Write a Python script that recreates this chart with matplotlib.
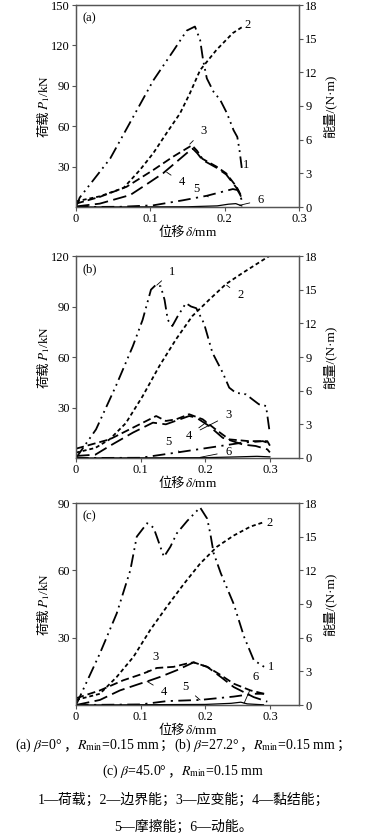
import matplotlib
matplotlib.use("Agg")
import matplotlib.pyplot as plt

plt.rcParams["font.family"] = ["Liberation Serif", "Noto Sans CJK SC"]
plt.rcParams["mathtext.fontset"] = "stix"
plt.rcParams["font.size"] = 9

# ── 数据 (a) β=0° ────────────────────────────────────────────────────────────
a_x_load = [0, 0.005, 0.046, 0.064, 0.077, 0.104, 0.131, 0.149, 0.160, 0.167, 0.171, 0.176,
            0.185, 0.194, 0.203, 0.212, 0.217, 0.220, 0.223]
a_load = [0, 7, 36, 54, 67, 94, 116, 131, 134, 124, 109, 95.5, 85.6, 79.5, 69.7, 57, 52, 42, 29]
a_x_bound = [0, 0.032, 0.064, 0.086, 0.104, 0.122, 0.140, 0.153, 0.167, 0.189, 0.211, 0.225]
a_bound = [0.5, 0.95, 1.7, 3.3, 4.8, 6.6, 8.35, 10.1, 12.2, 14.0, 15.5, 16.1]
a_x_strain = [0, 0.032, 0.068, 0.104, 0.131, 0.146, 0.156, 0.163, 0.170, 0.189, 0.202, 0.216, 0.223]
a_strain = [0.3, 0.9, 1.8, 3.3, 4.5, 5.1, 5.5, 5.0, 4.3, 3.6, 3.0, 1.8, 0.9]
a_x_bond = [0, 0.032, 0.073, 0.099, 0.117, 0.149, 0.157, 0.163, 0.170, 0.189, 0.202, 0.216, 0.223]
a_bond = [0.05, 0.3, 1.07, 2.2, 3.0, 4.8, 5.2, 4.8, 4.2, 3.5, 2.9, 1.7, 0.8]
a_x_fric = [0, 0.06, 0.104, 0.144, 0.176, 0.211, 0.218, 0.223]
a_fric = [0, 0.02, 0.15, 0.6, 1.0, 1.6, 1.5, 0.6]
a_x_kin = [0, 0.15, 0.19, 0.205, 0.215, 0.223]
a_kin = [0, 0.02, 0.1, 0.25, 0.3, 0.1]

# ── 数据 (b) β=27.2° ─────────────────────────────────────────────────────────
b_x_load = [0, 0.031, 0.062, 0.088, 0.103, 0.116, 0.124, 0.131, 0.137, 0.142, 0.149, 0.157, 0.170,
            0.178, 0.186, 0.198, 0.211, 0.227, 0.237, 0.247, 0.263, 0.273, 0.283, 0.294, 0.299]
b_load = [0, 17, 43, 66.5, 82, 100, 103, 102, 94, 82, 78.4, 84, 92,
          90, 89, 80, 62.6, 50.7, 41.8, 38.8, 37.8, 34.8, 31.9, 30.9, 17]
b_x_bound = [0, 0.03, 0.052, 0.077, 0.103, 0.129, 0.155, 0.180, 0.206, 0.232, 0.258, 0.299]
b_bound = [0.48, 0.9, 1.66, 3.1, 5.5, 8.2, 10.6, 12.65, 14.1, 15.5, 16.5, 18.0]
b_x_strain = [0, 0.052, 0.088, 0.124, 0.139, 0.155, 0.175, 0.196, 0.216, 0.237, 0.268, 0.296, 0.300]
b_strain = [0.83, 1.66, 2.7, 3.74, 3.3, 3.45, 3.9, 3.45, 2.55, 1.66, 1.5, 1.5, 1.1]
b_x_bond = [0, 0.03, 0.052, 0.088, 0.119, 0.139, 0.175, 0.186, 0.206, 0.227, 0.258, 0.278, 0.296, 0.300]
b_bond = [0.18, 0.3, 1.07, 2.26, 3.15, 3.0, 3.74, 3.6, 2.85, 1.8, 1.2, 1.07, 0.77, 0.5]
b_x_fric = [0, 0.1, 0.155, 0.206, 0.258, 0.289, 0.300]
b_fric = [0, 0.02, 0.48, 0.92, 1.37, 1.5, 1.3]
b_x_kin = [0, 0.2, 0.25, 0.28, 0.3]
b_kin = [0, 0.03, 0.1, 0.15, 0.1]

# ── 数据 (c) β=45.0° ─────────────────────────────────────────────────────────
c_x_load = [0, 0.006, 0.037, 0.063, 0.084, 0.094, 0.11, 0.12, 0.125, 0.136, 0.146, 0.156, 0.172,
            0.192, 0.203, 0.208, 0.213, 0.224, 0.244, 0.26, 0.275, 0.291, 0.296]
c_load = [0, 3.7, 23, 40.8, 60, 75, 81, 79, 75, 66, 70.5, 76.5, 82,
          88, 83, 76, 67.6, 58.7, 45, 30.4, 20, 17, 17]
c_x_bound = [0, 0.037, 0.063, 0.089, 0.115, 0.141, 0.167, 0.192, 0.218, 0.244, 0.27, 0.291]
c_bound = [0.45, 1.0, 2.5, 4.3, 6.7, 8.8, 10.8, 12.6, 14.1, 15.1, 15.9, 16.3]
c_x_strain = [0, 0.037, 0.073, 0.104, 0.125, 0.151, 0.172, 0.182, 0.203, 0.223, 0.244, 0.27, 0.291]
c_strain = [0.6, 1.3, 2.2, 2.8, 3.3, 3.4, 3.7, 3.8, 3.4, 2.7, 1.9, 1.3, 1.0]
c_x_bond = [0, 0.037, 0.068, 0.099, 0.11, 0.13, 0.156, 0.182, 0.203, 0.224, 0.244, 0.275, 0.296]
c_bond = [0, 0.45, 1.3, 1.9, 2.1, 2.5, 3.1, 3.8, 3.4, 2.5, 1.6, 0.7, 0.3]
c_x_fric = [0, 0.1, 0.141, 0.192, 0.244, 0.275, 0.291]
c_fric = [0, 0.05, 0.35, 0.45, 0.75, 1.0, 1.0]
c_x_kin = [0, 0.2, 0.24, 0.255, 0.265, 0.28, 0.29]
c_kin = [0, 0.05, 0.15, 0.25, 0.1, 0.05, 0.02]

# ── 线型 ─────────────────────────────────────────────────────────────────────
LS_LOAD = (0, (7, 2.5, 1, 2.5, 1, 2.5))
LS_BOUND = (0, (2.2, 1.6))
LS_STRAIN = (0, (4.5, 2.2))
LS_BOND = (0, (7.5, 3))
LS_FRIC = (0, (7, 3, 1.2, 3))
LW = 1.3
SPINE = "#555555"
W, H = 367, 834

PANELS = [
    dict(tag="(a)", top=5, xmax=0.3, pmax=150, pticks=[30, 60, 90, 120, 150],
         load=(a_x_load, a_load), bound=(a_x_bound, a_bound), strain=(a_x_strain, a_strain),
         bond=(a_x_bond, a_bond), fric=(a_x_fric, a_fric), kin=(a_x_kin, a_kin),
         notes=[("1", (0.229, 3.7), None), ("2", (0.231, 16.2), None),
                ("3", (0.171, 6.8), (0.153, 5.6)), ("4", (0.142, 2.2), (0.122, 3.1)),
                ("5", (0.162, 1.6), (0.178, 0.9)), ("6", (0.249, 0.6), (0.220, 0.15))]),
    dict(tag="(b)", top=256, xmax=0.345, pmax=120, pticks=[30, 60, 90, 120],
         load=(b_x_load, b_load), bound=(b_x_bound, b_bound), strain=(b_x_strain, b_strain),
         bond=(b_x_bond, b_bond), fric=(b_x_fric, b_fric), kin=(b_x_kin, b_kin),
         notes=[("1", (0.148, 16.6), (0.125, 15.4)), ("2", (0.254, 14.5), (0.233, 15.4)),
                ("3", (0.236, 3.8), (0.192, 2.5)), ("4", (0.174, 2.0), (0.202, 3.2)),
                ("5", (0.143, 1.45), (0.161, 0.5)), ("6", (0.236, 0.56), (0.192, 0.06))]),
    dict(tag="(c)", top=503, xmax=0.345, pmax=90, pticks=[30, 60, 90],
         load=(c_x_load, c_load), bound=(c_x_bound, c_bound), strain=(c_x_strain, c_strain),
         bond=(c_x_bond, c_bond), fric=(c_x_fric, c_fric), kin=(c_x_kin, c_kin),
         notes=[("1", (0.301, 3.4), None), ("2", (0.300, 16.2), None),
                ("3", (0.123, 4.3), (0.11, 2.9)), ("4", (0.136, 1.2), (0.11, 2.1)),
                ("5", (0.169, 1.6), (0.192, 0.45)), ("6", (0.278, 2.5), (0.26, 0.15))]),
]

fig = plt.figure(figsize=(W / 100, H / 100), dpi=100)
renderer = fig.canvas.get_renderer()


def row(pieces, cx, base_y, size=9, vertical=False):
    """Pieces of text side by side on one baseline, centred on cx (pixels, y from top)."""
    texts = []
    for s in pieces:
        t = fig.text(0, 0, s, fontsize=size, ha="left", va="baseline",
                     rotation=90 if vertical else 0, rotation_mode="anchor")
        texts.append(t)
    ext = [t.get_window_extent(renderer) for t in texts]
    lens = [e.height if vertical else e.width for e in ext]
    pos = -sum(lens) / 2
    for t, n in zip(texts, lens):
        if vertical:
            t.set_position((base_y / W, 1 - (cx - pos) / H))
        else:
            t.set_position(((cx + pos) / W, 1 - base_y / H))
        pos += n
    return texts


for p in PANELS:
    box = [76 / W, 1 - (p["top"] + 202) / H, 223 / W, 202 / H]
    ax = fig.add_axes(box)
    axr = ax.twinx()

    ax.plot(*p["load"], color="k", lw=LW, ls=LS_LOAD)
    axr.plot(*p["bound"], color="k", lw=LW, ls=LS_BOUND)
    axr.plot(*p["strain"], color="k", lw=LW, ls=LS_STRAIN)
    axr.plot(*p["bond"], color="k", lw=LW, ls=LS_BOND)
    axr.plot(*p["fric"], color="k", lw=LW, ls=LS_FRIC)
    axr.plot(*p["kin"], color="k", lw=0.9, ls="-")

    ax.set_xlim(0, p["xmax"])
    ax.set_ylim(0, p["pmax"])
    axr.set_ylim(0, 18)
    ax.set_xticks([0, 0.1, 0.2, 0.3])
    ax.set_xticklabels(["0", "0.1", "0.2", "0.3"])
    ax.set_yticks(p["pticks"])
    axr.set_yticks(range(0, 19, 3))

    for a in (ax, axr):
        a.tick_params(direction="out", length=3, width=0.8, color=SPINE, labelsize=9, pad=1.5)
        for s in a.spines.values():
            s.set_color(SPINE)
            s.set_linewidth(0.9)

    ax.text(0.03, 0.965, p["tag"], transform=ax.transAxes, ha="left", va="top", fontsize=9)

    for lab, txy, pxy in p["notes"]:
        if pxy is None:
            axr.text(*txy, lab, ha="center", va="center", fontsize=9)
        else:
            axr.annotate(lab, xy=pxy, xytext=txy, ha="center", va="center", fontsize=9,
                         arrowprops=dict(arrowstyle="-", color="k", lw=0.6, shrinkA=4, shrinkB=0))

    mid = p["top"] + 101
    row(["荷载", "$P_1$/kN"], mid, 48, size=9.5, vertical=True)
    row(["能量/(N·m)"], mid, 334, size=9.5, vertical=True)
    row(["位移", "$\\delta$/mm"], 188, p["top"] + 231, size=9.5)

# ── 图注 ─────────────────────────────────────────────────────────────────────
row(["(a) $\\beta$=0°", "，", "$R_{\\rm min}$=0.15 mm", "；", "(b) $\\beta$=27.2°", "，",
     "$R_{\\rm min}$=0.15 mm", "；"], 183, 749, size=10)
row(["(c) $\\beta$=45.0°", "，", "$R_{\\rm min}$=0.15 mm"], 183, 775, size=10)
row(["1—荷载；2—边界能；3—应变能；4—黏结能；"], 183, 804, size=10)
row(["5—摩擦能；6—动能。"], 183, 831, size=10)

fig.savefig("out.png", dpi=100)
